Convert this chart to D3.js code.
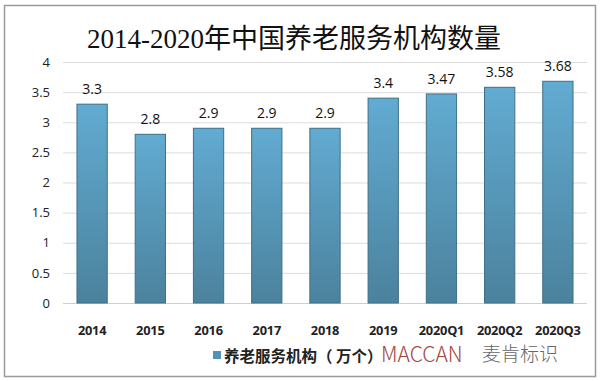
<!DOCTYPE html>
<html><head><meta charset="utf-8">
<script src="https://cdn.jsdelivr.net/npm/d3@7"></script>
<style>body{margin:0;background:#fff}</style>
</head><body>
<script>
const categories = ["2014","2015","2016","2017","2018","2019","2020Q1","2020Q2","2020Q3"];
const values = [3.3,2.8,2.9,2.9,2.9,3.4,3.47,3.58,3.68];
const yTicks = [0,0.5,1,1.5,2,2.5,3,3.5,4];
const seriesName = "养老服务机构（ 万个）";
const title = "2014-2020年中国养老服务机构数量";

const W=600,H=381;
const svg=d3.select("body").append("svg").attr("width",W).attr("height",H);
svg.append("rect").attr("x",4.5).attr("y",5.5).attr("width",591).attr("height",371)
  .attr("fill","#fff").attr("stroke","#9a9a9a").attr("stroke-width",1.5);

const defs=svg.append("defs");
const g=defs.append("linearGradient").attr("id","bg").attr("x1",0).attr("y1",0).attr("x2",0).attr("y2",1);
g.append("stop").attr("offset","0%").attr("stop-color","#62abd2");
g.append("stop").attr("offset","100%").attr("stop-color","#4b829d");

const x=d3.scaleBand().domain(categories).range([63,587]).paddingInner(0.48).paddingOuter(0.24);
const y=d3.scaleLinear().domain([0,4]).range([303,62]);

svg.append("g").selectAll("line").data(yTicks).join("line")
  .attr("x1",63).attr("x2",587).attr("y1",d=>y(d)+0.5).attr("y2",d=>y(d)+0.5)
  .attr("stroke",d=>d===0?"#cfcfcf":"#dcdcdc").attr("stroke-width",1);

const yAxis=svg.append("g").attr("transform","translate(50,0)")
  .call(d3.axisLeft(y).tickValues(yTicks).tickSize(0).tickPadding(0).tickFormat(d=>String(d)));
yAxis.select(".domain").remove();
yAxis.selectAll("text").attr("font-family","'Open Sans','DejaVu Sans',sans-serif").attr("font-size",13).attr("fill","#222");

svg.append("g").selectAll("rect").data(values).join("rect")
  .attr("x",(d,i)=>x(categories[i])).attr("width",x.bandwidth())
  .attr("y",d=>y(d)).attr("height",d=>y(0)-y(d))
  .attr("fill","url(#bg)").attr("stroke","#3f6f86").attr("stroke-width",1);

svg.append("g").selectAll("text").data(values).join("text")
  .attr("x",(d,i)=>x(categories[i])+x.bandwidth()/2).attr("y",d=>y(d)-10)
  .attr("text-anchor","middle").attr("font-family","'Open Sans','DejaVu Sans',sans-serif")
  .attr("font-size",14).attr("fill","#111").text(d=>String(d));

const xAxis=svg.append("g").attr("transform","translate(0,303)")
  .call(d3.axisBottom(x).tickSize(0).tickPadding(23));
xAxis.select(".domain").remove();
xAxis.selectAll("text").attr("font-family","'Open Sans','DejaVu Sans',sans-serif").attr("font-size",12.8)
  .attr("font-weight","bold").attr("fill","#222").attr("letter-spacing",-0.2);

svg.append("text").attr("x",294).attr("y",48).attr("text-anchor","middle")
  .attr("font-family","'Liberation Serif','Noto Sans CJK SC',serif").attr("font-size",27)
  .attr("fill","#111").text(title);

svg.append("rect").attr("x",213).attr("y",351).attr("width",8).attr("height",8).attr("fill","#4f93bb");
svg.append("text").attr("x",224).attr("y",362).attr("font-family","'Noto Sans CJK SC',sans-serif")
  .attr("font-size",15.5).attr("font-weight","bold").attr("fill","#222").text(seriesName);

svg.append("text").attr("x",381).attr("y",362).attr("font-family","'Noto Sans CJK SC',sans-serif")
  .attr("font-size",21).attr("font-weight",300).attr("fill","#a2473d").text("MACCAN");
svg.append("text").attr("x",482).attr("y",361).attr("font-family","'Noto Sans CJK SC',sans-serif")
  .attr("font-size",19).attr("font-weight",300).attr("fill","#666").text("麦肯标识");
</script>
</body></html>
